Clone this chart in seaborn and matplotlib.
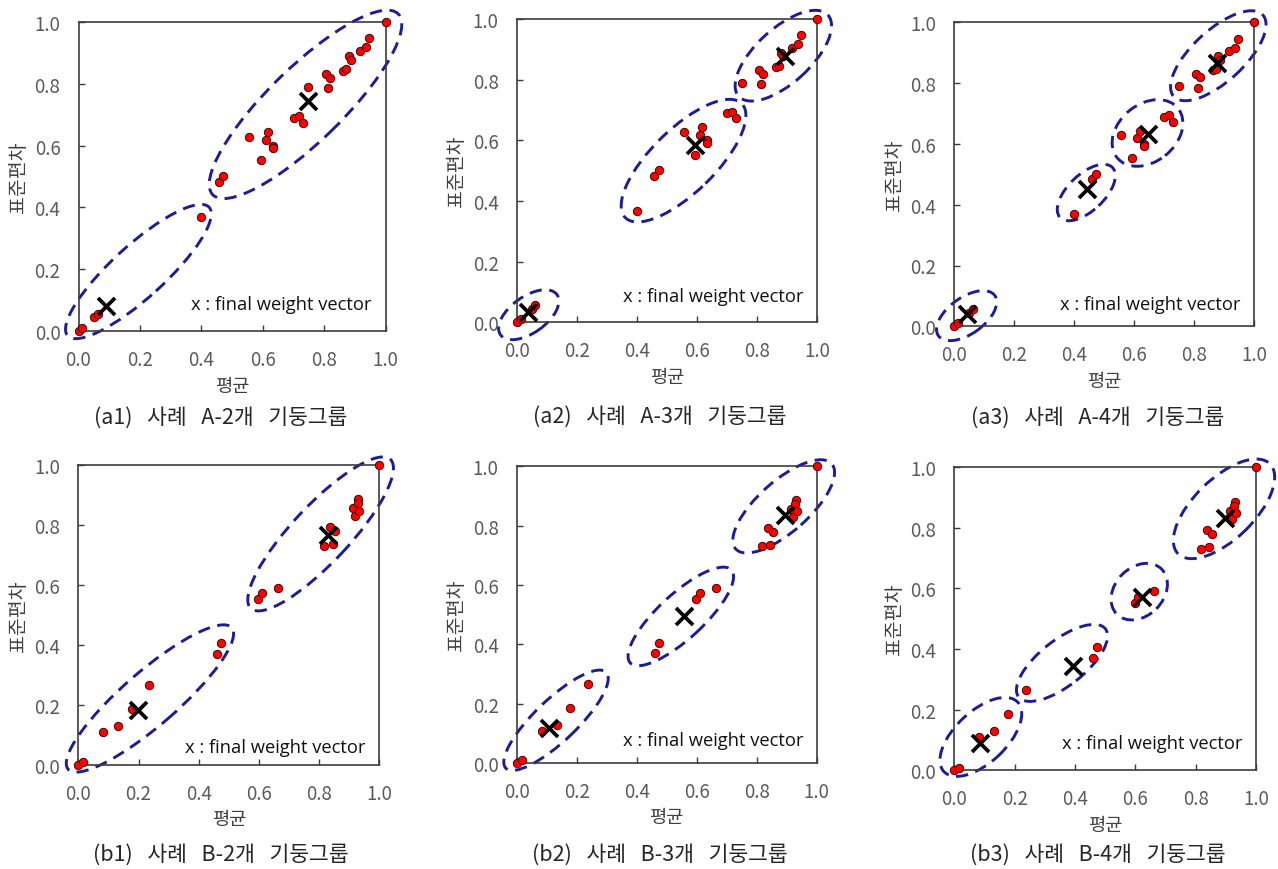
import matplotlib
matplotlib.use("Agg")
import matplotlib.pyplot as plt
from matplotlib.patches import Ellipse
import seaborn as sns
import pandas as pd

# ---------------- data ----------------
# Case A (columns: mean, std) - same points in a1, a2, a3
A_mean = [0.000, 0.013, 0.050, 0.062, 0.399, 0.458, 0.472, 0.556, 0.593, 0.610,
          0.618, 0.632, 0.632, 0.700, 0.717, 0.730, 0.748, 0.806, 0.818, 0.813,
          0.861, 0.871, 0.879, 0.887, 0.915, 0.935, 0.945, 1.000]
A_std = [0.000, 0.010, 0.045, 0.057, 0.368, 0.483, 0.501, 0.629, 0.553, 0.618,
         0.643, 0.600, 0.592, 0.690, 0.695, 0.673, 0.789, 0.831, 0.819, 0.785,
         0.842, 0.846, 0.888, 0.877, 0.905, 0.917, 0.946, 1.000]

# Case B - same points in b1, b2, b3
B_mean = [0.000, 0.017, 0.083, 0.133, 0.178, 0.236, 0.460, 0.473, 0.598, 0.610,
          0.663, 0.817, 0.845, 0.836, 0.853, 0.913, 0.920, 0.930, 0.928, 0.933, 1.000]
B_std = [0.000, 0.009, 0.109, 0.128, 0.186, 0.265, 0.370, 0.406, 0.552, 0.573,
         0.591, 0.730, 0.736, 0.792, 0.779, 0.856, 0.830, 0.886, 0.872, 0.848, 1.000]

# final weight vectors (cluster centres)
a1_wx = [0.090, 0.748]
a1_wy = [0.083, 0.745]
a2_wx = [0.039, 0.593, 0.892]
a2_wy = [0.033, 0.585, 0.879]
a3_wx = [0.041, 0.441, 0.644, 0.874]
a3_wy = [0.041, 0.452, 0.633, 0.866]
b1_wx = [0.197, 0.830]
b1_wy = [0.184, 0.768]
b2_wx = [0.107, 0.559, 0.894]
b2_wy = [0.117, 0.497, 0.836]
b3_wx = [0.085, 0.392, 0.621, 0.897]
b3_wy = [0.089, 0.345, 0.570, 0.832]

# cluster ellipses: centre x, centre y, major, minor, angle(deg)
a1_ell = [(0.195, 0.193, 0.62, 0.17, 42), (0.739, 0.733, 0.84, 0.24, 44)]
a2_ell = [(0.040, 0.025, 0.23, 0.12, 35), (0.555, 0.533, 0.54, 0.21, 44),
          (0.887, 0.879, 0.40, 0.18, 42)]
a3_ell = [(0.041, 0.035, 0.23, 0.12, 35), (0.440, 0.440, 0.24, 0.12, 43),
          (0.644, 0.636, 0.26, 0.19, 38), (0.880, 0.890, 0.40, 0.17, 42)]
b1_ell = [(0.238, 0.221, 0.72, 0.18, 41), (0.805, 0.770, 0.68, 0.19, 47)]
b2_ell = [(0.131, 0.144, 0.465, 0.14, 44), (0.547, 0.494, 0.46, 0.15, 43),
          (0.890, 0.865, 0.43, 0.17, 42)]
b3_ell = [(0.088, 0.110, 0.335, 0.17, 43), (0.357, 0.354, 0.365, 0.15, 38),
          (0.613, 0.589, 0.21, 0.16, 45), (0.894, 0.862, 0.425, 0.20, 44)]

captions = ["(a1)   사례   A-2개   기둥그룹", "(a2)   사례   A-3개   기둥그룹",
            "(a3)   사례   A-4개   기둥그룹", "(b1)   사례   B-2개   기둥그룹",
            "(b2)   사례   B-3개   기둥그룹", "(b3)   사례   B-4개   기둥그룹"]
x_label = "평균"
y_label = "표준편차"
note = "x : final weight vector"
note_y = [0.088, 0.088, 0.072, 0.060, 0.078, 0.090]
tick_vals = [0.0, 0.2, 0.4, 0.6, 0.8, 1.0]
tick_text = ["0.0", "0.2", "0.4", "0.6", "0.8", "1.0"]

# ---------------- style ----------------
sns.set_style("white")
plt.rcParams['font.family'] = ['Noto Sans CJK KR', 'DejaVu Sans']

W, H = 1278, 870
fig = plt.figure(figsize=(W / 100, H / 100), dpi=100)

# axes boxes in pixels: left, top, right, bottom
boxes = [(78.5, 22.7, 385.7, 332.3), (516.7, 20.0, 817.3, 323.3),
         (954.3, 23.3, 1254.3, 327.3), (78.3, 466.0, 379.3, 765.7),
         (516.7, 467.3, 816.7, 764.0), (954.3, 468.0, 1256.0, 771.3)]
cap_pos = [(221, 418), (660, 417), (1098, 418), (221, 855), (660, 855), (1098, 855)]

panels = [
    (A_mean, A_std, a1_wx, a1_wy, a1_ell),
    (A_mean, A_std, a2_wx, a2_wy, a2_ell),
    (A_mean, A_std, a3_wx, a3_wy, a3_ell),
    (B_mean, B_std, b1_wx, b1_wy, b1_ell),
    (B_mean, B_std, b2_wx, b2_wy, b2_ell),
    (B_mean, B_std, b3_wx, b3_wy, b3_ell),
]

spine_col = "#3c3c3c"
tick_col = "#5a5a5a"
ell_col = "#1a1d9a"

for i, (mx, sy, wx, wy, ells) in enumerate(panels):
    l, t, r, b = boxes[i]
    ax = fig.add_axes([l / W, 1 - b / H, (r - l) / W, (b - t) / H])
    ax.set_xlim(0, 1)
    ax.set_ylim(0, 1)

    for (cx, cy, w, h, ang) in ells:
        e = Ellipse((cx, cy), w, h, angle=ang, fill=False, edgecolor=ell_col,
                    linewidth=2.1, linestyle=(0, (4.2, 2.6)), clip_on=False, zorder=2)
        ax.add_patch(e)

    df = pd.DataFrame({"평균": mx, "표준편차": sy})
    sns.scatterplot(data=df, x="평균", y="표준편차", ax=ax, color="#ff0000",
                    edgecolor="#4a0000", linewidth=0.7, s=36, zorder=3,
                    clip_on=False, legend=False)
    dw = pd.DataFrame({"x": wx, "y": wy})
    sns.scatterplot(data=dw, x="x", y="y", ax=ax, marker="x", color="black",
                    s=150, linewidth=2.7, zorder=4, clip_on=False, legend=False)

    ax.text(0.955, note_y[i], note, ha="right", va="center", fontsize=13.2,
            color="#111111", family=["Open Sans", "DejaVu Sans"], zorder=5)

    ax.set_xticks(tick_vals)
    ax.set_yticks(tick_vals)
    ax.set_xticklabels(tick_text)
    ax.set_yticklabels(tick_text)
    ax.tick_params(direction="in", length=4, width=1, color=spine_col,
                   labelcolor=tick_col, labelsize=13.5, pad=13,
                   bottom=True, left=True)
    for s in ax.spines.values():
        s.set_color(spine_col)
        s.set_linewidth(1.2)
    ax.set_xlabel(x_label, fontsize=13.5, color="#404040", labelpad=3)
    ax.set_ylabel(y_label, fontsize=14, color="#404040", labelpad=4)

    cx, cy = cap_pos[i]
    fig.text(cx / W, 1 - cy / H, captions[i], ha="center", va="center",
             fontsize=15.5, color="#262626")

fig.savefig("out.png", dpi=100)
